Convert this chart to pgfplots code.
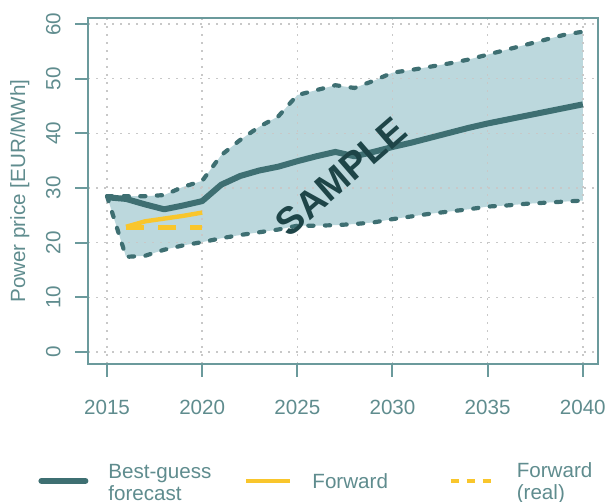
\documentclass[border=0pt]{standalone}
\usepackage{fontspec}
\setmainfont{Liberation Sans}
\usepackage{pgfplots}
\pgfplotsset{compat=1.18}
\usepackage{pgfplotstable}
\usepgfplotslibrary{fillbetween}

\definecolor{axiscol}{HTML}{6B9A9C}
\definecolor{txtcol}{HTML}{5F8C8E}
\definecolor{fillcol}{HTML}{BCD8DD}
\definecolor{linecol}{HTML}{3E6F72}
\definecolor{yel}{HTML}{F9C62C}
\definecolor{gridcol}{HTML}{C8C8C8}
\definecolor{samplecol}{HTML}{1E4548}

% fill below the grid, lines above it
\pgfplotsset{
  layers/mine/.define layer set={
    axis background,pre main,axis grid,axis ticks,axis lines,
    axis tick labels,main,axis descriptions,axis foreground
  }{
    grid style={/pgfplots/on layer=axis grid},
    tick style={/pgfplots/on layer=axis ticks},
    axis line style={/pgfplots/on layer=axis lines},
    label style={/pgfplots/on layer=axis descriptions},
    legend style={/pgfplots/on layer=axis descriptions},
    title style={/pgfplots/on layer=axis descriptions},
    ticklabel style={/pgfplots/on layer=axis tick labels},
    axis background@ style={/pgfplots/on layer=axis background},
  },
}

% year, best guess, upper, lower
\pgfplotstableread{
year best  up    lo
2015 28.3  28.5  28.5
2016 28.0  28.5  17.4
2017 27.0  28.5  17.6
2018 26.1  28.7  18.7
2019 26.8  30.2  19.5
2020 27.6  31.3  20.1
2021 30.6  36.0  20.8
2022 32.2  38.8  21.4
2023 33.2  41.2  21.9
2024 33.9  43.1  22.4
2025 34.9  47.0  23.1
2026 35.8  47.9  23.1
2027 36.6  48.8  23.2
2028 35.8  48.3  23.4
2029 36.6  49.6  23.7
2030 37.5  51.1  24.3
2031 38.3  51.6  24.8
2032 39.2  52.2  25.3
2033 40.1  52.8  25.7
2034 41.0  53.5  26.1
2035 41.8  54.4  26.6
2036 42.5  55.3  26.8
2037 43.2  56.2  27.1
2038 43.9  57.1  27.3
2039 44.6  58.0  27.5
2040 45.3  58.6  27.7
}\scen

\pgfplotstableread{
year fwd  real
2016 22.9 22.8
2017 23.9 22.8
2018 24.4 22.8
2019 24.9 22.8
2020 25.5 22.8
}\fwd

\begin{document}
\begin{tikzpicture}
\begin{axis}[
  set layers=mine,
  scale only axis, width=255pt, height=173pt,
  xmin=2014, xmax=2040.8, ymin=-2.2, ymax=61.1,
  xtick={2015,2020,...,2040}, ytick={0,10,...,60},
  xtick pos=bottom, ytick pos=left,
  tick align=outside, major tick length=6.5pt,
  axis line style={draw=axiscol, line width=1pt},
  tick style={draw=axiscol, line width=1pt},
  grid=major,
  grid style={draw=gridcol, line width=0.8pt, dash pattern=on 1pt off 3pt},
  /pgf/number format/assume math mode=true,
  /pgf/number format/1000 sep={},
  ticklabel style={font=\fontsize{10.3}{12}\selectfont, text=txtcol, inner sep=0pt},
  xticklabel shift=11.5pt,
  yticklabel style={rotate=90, anchor=south},
  yticklabel shift=7pt,
  ylabel={Power price [EUR/MWh]},
  ylabel style={at={(axis description cs:-0.1235,0.5)}, anchor=base,
    font=\fontsize{10.3}{12}\selectfont, text=txtcol, inner sep=0pt},
  legend image code/.code={\draw[#1] (0pt,0pt) -- (22pt,0pt);},
  legend cell align=left,
  legend style={draw=none, fill=none, inner sep=0pt,
    at={(rel axis cs:-0.098,-0.338)}, anchor=west,
    font=\fontsize{10.3}{11}\selectfont, text=txtcol,
    nodes={inner sep=0pt}, column sep=0pt,
    /tikz/every odd column/.append style={column sep=10pt}},
  legend columns=3,
]
\addplot[name path=up, draw=linecol, line width=2.1pt, line cap=round,
  dash pattern=on 2.6pt off 5.7pt, forget plot] table[x=year, y=up] {\scen};
\addplot[name path=lo, draw=linecol, line width=2.1pt, line cap=round,
  dash pattern=on 2.6pt off 5.7pt, forget plot] table[x=year, y=lo] {\scen};
\addplot[fillcol, forget plot] fill between[of=up and lo];

\addplot[linecol, line width=3pt, line join=round, forget plot]
  table[x=year, y=best] {\scen};
\addplot[yel, line width=2.2pt, dash pattern=on 9pt off 7pt, forget plot]
  table[x=year, y=real] {\fwd};
\addplot[yel, line width=2.2pt, forget plot] table[x=year, y=fwd] {\fwd};

\node[rotate=41, text=samplecol, font=\fontsize{19}{23}\selectfont\bfseries]
  at (axis cs:2027.3,32.1) {SAMPLE};

\addlegendimage{linecol, line width=3pt, line cap=round}
\addlegendentry{\raisebox{4pt}{\parbox[c]{68pt}{Best-guess\\forecast}}}
\addlegendimage{yel, line width=2pt}
\addlegendentry{\parbox[c]{68pt}{Forward}}
\addlegendimage{yel, line width=2.2pt, dash pattern=on 4pt off 4pt}
\addlegendentry{\raisebox{4pt}{\parbox[c]{68pt}{Forward\\(real)}}}
\end{axis}
\pgfresetboundingbox
\path[use as bounding box] (-44pt,-69pt) rectangle (259pt,182pt);
\end{tikzpicture}
\end{document}
